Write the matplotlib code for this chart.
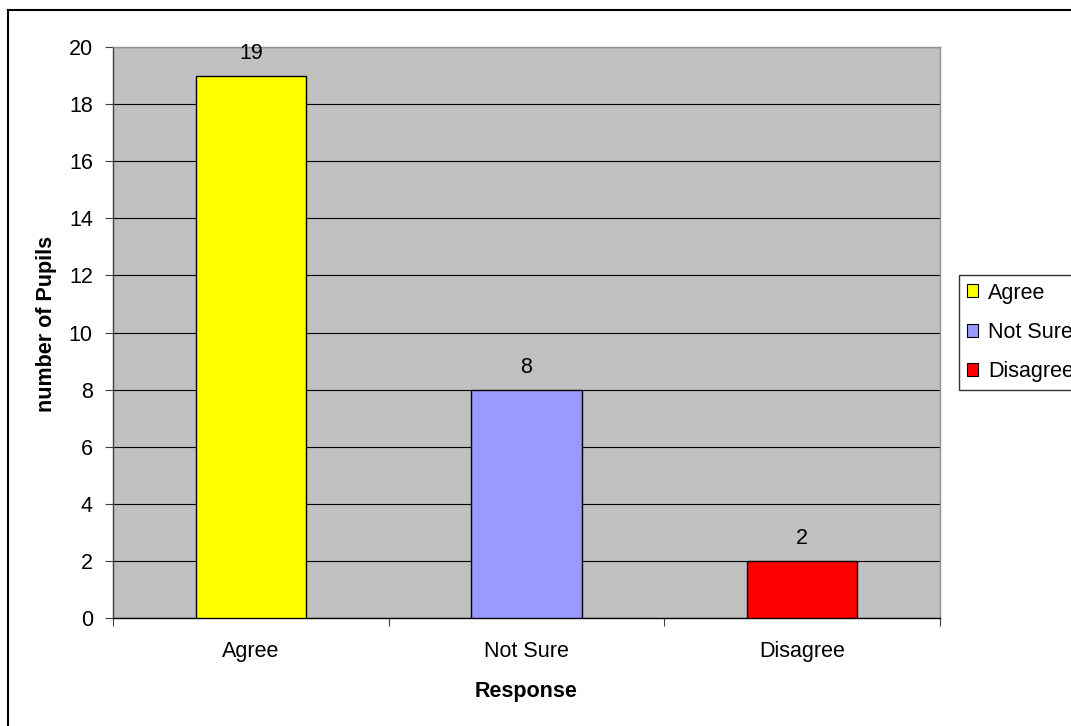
import matplotlib
matplotlib.use("Agg")
import matplotlib.pyplot as plt
from matplotlib.lines import Line2D
from matplotlib.patches import Patch

plt.rcParams['font.family'] = ['Liberation Sans', 'DejaVu Sans']

categories = ["Agree", "Not Sure", "Disagree"]
counts = [19, 8, 2]
colors = ["#FFFF00", "#9999FF", "#FF0000"]
y_ticks = [0, 2, 4, 6, 8, 10, 12, 14, 16, 18, 20]

FS = 15.5
W, H = 1071, 726
fig = plt.figure(figsize=(W / 100, H / 100), dpi=100)
ax = fig.add_axes([113 / W, 1 - 618 / H, (940 - 113) / W, (618 - 47) / H])
ax.set_facecolor("#C0C0C0")

x = list(range(len(categories)))
bars = ax.bar(x, counts, width=0.4, color=colors, edgecolor="black", linewidth=1.0, zorder=3)
for xi, v in zip(x, counts):
    ax.annotate(str(v), (xi, v), xytext=(0, 8.5), textcoords="offset points",
                ha="center", va="bottom", fontsize=FS)

ax.set_xlim(-0.5, len(categories) - 0.5)
ax.set_ylim(0, 20)
ax.set_yticks(y_ticks)
ax.yaxis.grid(True, color="black", linewidth=0.8, zorder=1)
ax.set_axisbelow(True)

ax.set_xticks([i - 0.5 for i in range(len(categories) + 1)])
ax.set_xticklabels([])
ax.set_xticks(x, minor=True)
ax.set_xticklabels(categories, minor=True)
ax.tick_params(axis="x", which="minor", length=0, pad=16.5, labelsize=FS)
ax.tick_params(axis="x", which="major", length=5.5, width=0.8, color="#404040")
ax.tick_params(axis="y", length=5.5, width=0.8, color="#404040", pad=9, labelsize=FS)

ax.spines["left"].set_color("#404040")
ax.spines["bottom"].set_color("black")
ax.spines["top"].set_color("#909090")
ax.spines["right"].set_color("#909090")
for s in ax.spines.values():
    s.set_linewidth(1.0)

ax.set_xlabel("Response", fontsize=FS, fontweight="bold", labelpad=14)
ax.set_ylabel("number of Pupils", fontsize=FS, fontweight="bold")
ax.yaxis.set_label_coords(-0.068, 0.515)

handles = [Patch(facecolor=c, edgecolor="black", linewidth=0.8) for c in colors]
leg = fig.legend(handles, categories, loc="upper left",
                 bbox_to_anchor=(959 / W, 1 - 275 / H), bbox_transform=fig.transFigure,
                 fontsize=FS, frameon=True, fancybox=False, edgecolor="black",
                 handlelength=0.55, handleheight=0.55, handletextpad=0.45,
                 labelspacing=0.85, borderpad=0.35, borderaxespad=0)
leg.get_frame().set_linewidth(1.0)

# outer chart border (left and top edges visible)
fig.add_artist(Line2D([7.5 / W, 7.5 / W], [0, 1 - 9.5 / H], transform=fig.transFigure,
                      color="black", linewidth=1.5))
fig.add_artist(Line2D([7.5 / W, 1], [1 - 9.5 / H, 1 - 9.5 / H], transform=fig.transFigure,
                      color="black", linewidth=1.5))

fig.savefig("out.png", dpi=100)
